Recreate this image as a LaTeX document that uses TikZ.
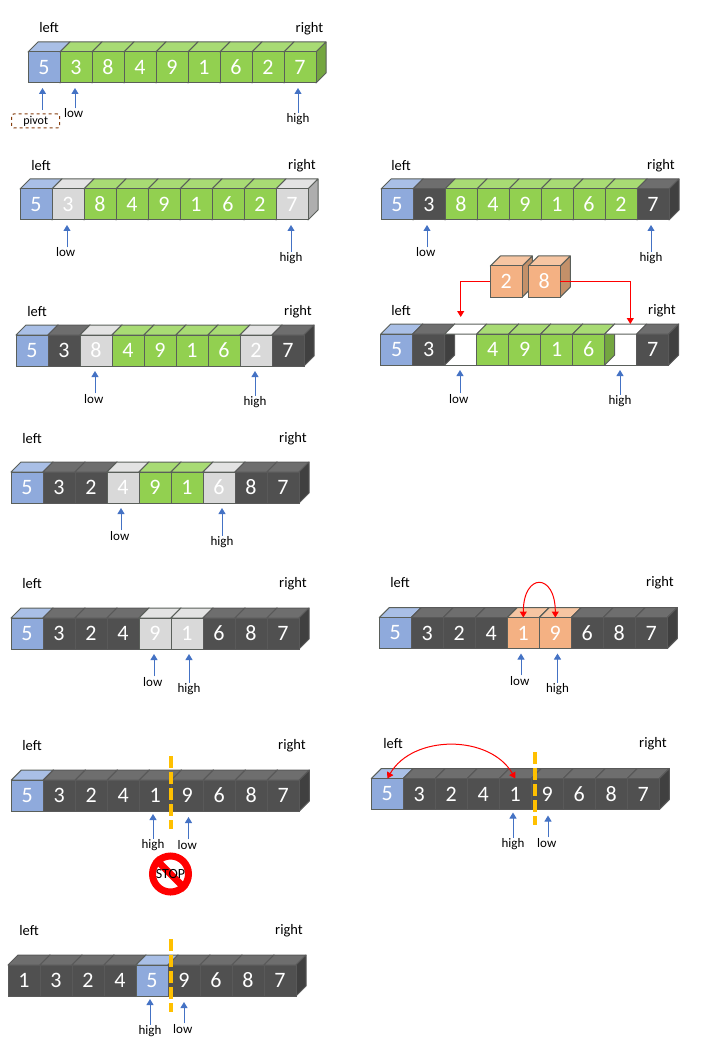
\documentclass[tikz,border=0pt]{standalone}
\usepackage{fontspec}
\setmainfont{Carlito}
\usetikzlibrary{arrows.meta}
\definecolor{cubeline}{HTML}{5A5F5A}
\definecolor{pointerblue}{HTML}{4472C4}
\definecolor{cutorange}{HTML}{FFC000}
\definecolor{pivotbrown}{HTML}{843C0C}
\definecolor{pivotF}{HTML}{8FAADC}\definecolor{pivotT}{HTML}{A9BFE6}\definecolor{pivotS}{HTML}{7188B0}
\definecolor{greenF}{HTML}{92D050}\definecolor{greenT}{HTML}{A8DB74}\definecolor{greenS}{HTML}{74A640}
\definecolor{grayF}{HTML}{D9D9D9}\definecolor{grayT}{HTML}{E3E3E3}\definecolor{grayS}{HTML}{AEAEAE}
\definecolor{darkF}{HTML}{505050}\definecolor{darkT}{HTML}{6E6E6E}\definecolor{darkS}{HTML}{404040}\definecolor{darkL}{HTML}{595959}
\definecolor{orangeF}{HTML}{F4B183}\definecolor{orangeT}{HTML}{F6C5A2}\definecolor{orangeS}{HTML}{C39069}
\newcommand{\cube}[5]{%
\draw[#5top,line width=1pt,line join=round] (#2,#3) -- ++(10,-10) -- ++(32,0) -- ++(-10,10) -- cycle;
\draw[#5side,line width=1pt,line join=round] (#2+32,#3) -- ++(10,-10) -- ++(0,31) -- ++(-10,10) -- cycle;
\node[cubeface,#5face,anchor=north west] (#1) at (#2,#3) {#4};
}
\newcommand{\cuberow}[4]{%
\foreach \digit/\kind [count=\i] in {#4} {\cube{#1\i}{#2+32*\i-32}{#3}{\digit}{\kind}}
}
\tikzset{
pivotface/.style={draw=cubeline,fill=pivotF},pivottop/.style={draw=cubeline,fill=pivotT},pivotside/.style={draw=cubeline,fill=pivotS},
greenface/.style={draw=cubeline,fill=greenF},greentop/.style={draw=cubeline,fill=greenT},greenside/.style={draw=cubeline,fill=greenS},
grayface/.style={draw=cubeline,fill=grayF},graytop/.style={draw=cubeline,fill=grayT},grayside/.style={draw=cubeline,fill=grayS},
darkface/.style={draw=darkL,fill=darkF},darktop/.style={draw=darkL,fill=darkT},darkside/.style={draw=darkL,fill=darkS},
orangeface/.style={draw=cubeline,fill=orangeF},orangetop/.style={draw=cubeline,fill=orangeT},orangeside/.style={draw=cubeline,fill=orangeS},
holeface/.style={draw=none},holetop/.style={draw=cubeline,fill=white},holeside/.style={draw=none}
}
\begin{document}
\begin{tikzpicture}[x=1pt,y=-1pt,
cubeface/.style={shape=rectangle,line width=1pt,minimum width=32pt,minimum height=31pt,inner sep=0pt,outer sep=0pt,text=white,font=\fontsize{22}{22}\selectfont},
endlabel/.style={font=\fontsize{14.5}{16}\selectfont,inner sep=0pt,yshift=-1pt},
pointerlabel/.style={font=\fontsize{13}{15}\selectfont,inner sep=0pt,anchor=base,text height=9.5pt},
lowlabel/.style={pointerlabel,execute at end node=\kern2.5pt},
pointer/.style={draw=pointerblue,line width=1pt,-{Triangle[length=6pt,width=7pt]},shorten >=5pt},
moveline/.style={draw=red,line width=1pt,-{Triangle[length=6pt,width=7pt]}},
swapline/.style={draw=red,line width=1pt,{Triangle[length=6pt,width=7pt]}-{Triangle[length=6pt,width=7pt]}},
cutline/.style={draw=cutorange,line width=4pt,dash pattern=on 12pt off 4pt}]
\useasboundingbox (0,0) rectangle (720,1040);
% first row
\cuberow{A}{28}{52}{5/pivot,3/green,8/green,4/green,9/green,1/green,6/green,2/green,7/green}
\node[endlabel] (Aleft) at (49,27) {left};
\node[endlabel] (Aright) at (309.5,27.5) {right};
\node[draw=pivotbrown,line width=1pt,dashed,rounded corners=2pt,minimum width=48pt,minimum height=14pt,inner sep=0pt,font=\fontsize{12}{14}\selectfont] (Apivot) at (35.7,121) {pivot};
\coordinate (Atail) at (42.5,110);
\node[lowlabel] (Alow) at (75,118) {low};
\node[pointerlabel] (Ahigh) at (298,122.5) {high};
\draw[pointer] (Atail) -- (Atail |- A1.south);
\draw[pointer] (Alow.north) -- (Alow.north |- A2.south);
\draw[pointer] (Ahigh.north) -- (Ahigh.north |- A9.south);
% second row
\cuberow{B}{20}{189}{5/pivot,3/gray,8/green,4/green,9/green,1/green,6/green,2/green,7/gray}
\node[endlabel] (Bleft) at (41,165) {left};
\node[endlabel] (Bright) at (302,165) {right};
\node[lowlabel] (Blow) at (67,257) {low};
\node[pointerlabel] (Bhigh) at (291,261.5) {high};
\draw[pointer] (Blow.north) -- (Blow.north |- B2.south);
\draw[pointer] (Bhigh.north) -- (Bhigh.north |- B9.south);
\cuberow{C}{381}{189}{5/pivot,3/dark,8/green,4/green,9/green,1/green,6/green,2/green,7/dark}
\node[endlabel] (Cleft) at (401,165) {left};
\node[endlabel] (Cright) at (661,165) {right};
\node[lowlabel] (Clow) at (427,257) {low};
\node[pointerlabel] (Chigh) at (651,261.5) {high};
\draw[pointer] (Clow.north) -- (Clow.north |- C2.south);
\draw[pointer] (Chigh.north) -- (Chigh.north |- C9.south);
% third row
\cuberow{D}{16}{335}{5/pivot,3/dark,8/gray,4/green,9/green,1/green,6/green,2/gray,7/dark}
\node[endlabel] (Dleft) at (37,311) {left};
\node[endlabel] (Dright) at (298,311) {right};
\node[lowlabel] (Dlow) at (95,403) {low};
\node[pointerlabel] (Dhigh) at (255,405.5) {high};
\draw[pointer] (Dlow.north) -- (Dlow.north |- D3.south);
\draw[pointer] (Dhigh.north) -- (Dhigh.north |- D8.south);
\cuberow{E}{380.7}{334}{5/pivot,3/dark,/hole,4/green,9/green,1/green,6/green,/hole,7/dark}
\draw[draw=cubeline,line width=1pt] (E3.south west) -- (E3.south east);
\draw[draw=cubeline,line width=1pt] (E8.south west) -- (E8.south east);
\cube{two}{490.3}{266}{2}{orange}
\cube{eight}{528.3}{266}{8}{orange}
\coordinate (Edropl) at (460.7,317);
\coordinate (Edropr) at (630.3,324);
\draw[moveline] (two.west) -| (Edropl);
\draw[moveline] (eight.east) -| (Edropr);
\node[endlabel] (Eleft) at (401,310) {left};
\node[endlabel] (Eright) at (662,310) {right};
\node[lowlabel] (Elow) at (460,403) {low};
\node[pointerlabel] (Ehigh) at (620,404.5) {high};
\draw[pointer] (Elow.north) -- (Elow.north |- E3.south);
\draw[pointer] (Ehigh.north) -- (Ehigh.north |- E8.south);
% fourth row
\cuberow{F}{11}{472}{5/pivot,3/dark,2/dark,4/gray,9/green,1/green,6/gray,8/dark,7/dark}
\node[endlabel] (Fleft) at (32,438) {left};
\node[endlabel] (Fright) at (293,438) {right};
\node[lowlabel] (Flow) at (121,540) {low};
\node[pointerlabel] (Fhigh) at (222,545.5) {high};
\draw[pointer] (Flow.north) -- (Flow.north |- F4.south);
\draw[pointer] (Fhigh.north) -- (Fhigh.north |- F7.south);
% fifth row
\cuberow{G}{11}{618}{5/pivot,3/dark,2/dark,4/dark,9/gray,1/gray,6/dark,8/dark,7/dark}
\node[endlabel] (Gleft) at (32,583) {left};
\node[endlabel] (Gright) at (293,583) {right};
\node[lowlabel] (Glow) at (154,686) {low};
\node[pointerlabel] (Ghigh) at (189,692.5) {high};
\draw[pointer] (Glow.north) -- (Glow.north |- G5.south);
\draw[pointer] (Ghigh.north) -- (Ghigh.north |- G6.south);
\cuberow{H}{379.3}{617.5}{5/pivot,3/dark,2/dark,4/dark,1/orange,9/orange,6/dark,8/dark,7/dark}
\node[endlabel] (Hleft) at (400,582) {left};
\node[endlabel] (Hright) at (660,582) {right};
\node[lowlabel] (Hlow) at (521,685) {low};
\node[pointerlabel] (Hhigh) at (557.5,692.5) {high};
\draw[pointer] (Hlow.north) -- (Hlow.north |- H5.south);
\draw[pointer] (Hhigh.north) -- (Hhigh.north |- H6.south);
\draw[swapline] (H5.north) to[out=90,in=90,distance=45pt] (H6.north);
% sixth row
\cuberow{J}{11.3}{780}{5/pivot,3/dark,2/dark,4/dark,1/dark,9/dark,6/dark,8/dark,7/dark}
\node[endlabel] (Jleft) at (32,745) {left};
\node[endlabel] (Jright) at (292,745) {right};
\node[pointerlabel] (Jhigh) at (153,848.5) {high};
\node[lowlabel] (Jlow) at (188.5,849) {low};
\draw[pointer,shorten >=3pt] (Jhigh.north) -- (Jhigh.north |- J5.south);
\draw[pointer,shorten >=6pt] (Jlow.north) -- (Jlow.north |- J6.south);
\coordinate (Jcuta) at (171,756);
\coordinate (Jcutb) at (171,829);
\draw[cutline] (Jcuta) -- (Jcutb);
\node[shape=circle,draw=red,fill=white,line width=7pt,minimum size=36pt,inner sep=0pt] (stop) at (170.5,874) {};
\draw[draw=red,line width=7pt] (stop.135) -- (stop.-45);
\node[font=\fontsize{14}{16}\selectfont,inner sep=0pt] (stoptext) at (stop.center) {STOP};
\cuberow{K}{371.3}{778.5}{5/pivot,3/dark,2/dark,4/dark,1/dark,9/dark,6/dark,8/dark,7/dark}
\node[endlabel] (Kleft) at (393,743) {left};
\node[endlabel] (Kright) at (653,743) {right};
\node[pointerlabel] (Khigh) at (513,847.5) {high};
\node[lowlabel] (Klow) at (548,847) {low};
\draw[pointer,shorten >=3pt] (Khigh.north) -- (Khigh.north |- K5.south);
\draw[pointer,shorten >=6pt] (Klow.north) -- (Klow.north |- K6.south);
\coordinate (Kcuta) at (535,752);
\coordinate (Kcutb) at (535,825);
\draw[cutline] (Kcuta) -- (Kcutb);
\draw[swapline] (K1.north) to[out=60,in=120,distance=51pt] (K5.north);
% seventh row
\cuberow{L}{8}{965}{1/dark,3/dark,2/dark,4/dark,5/pivot,9/dark,6/dark,8/dark,7/dark}
\node[endlabel] (Lleft) at (29,930) {left};
\node[endlabel] (Lright) at (289,930) {right};
\node[pointerlabel] (Lhigh) at (150,1034.5) {high};
\node[lowlabel] (Llow) at (184,1033) {low};
\draw[pointer,shorten >=3pt] (Lhigh.north) -- (Lhigh.north |- L5.south);
\draw[pointer,shorten >=6pt] (Llow.north) -- (Llow.north |- L6.south);
\coordinate (Lcuta) at (171,939);
\coordinate (Lcutb) at (171,1012);
\draw[cutline] (Lcuta) -- (Lcutb);
\end{tikzpicture}
\end{document}
